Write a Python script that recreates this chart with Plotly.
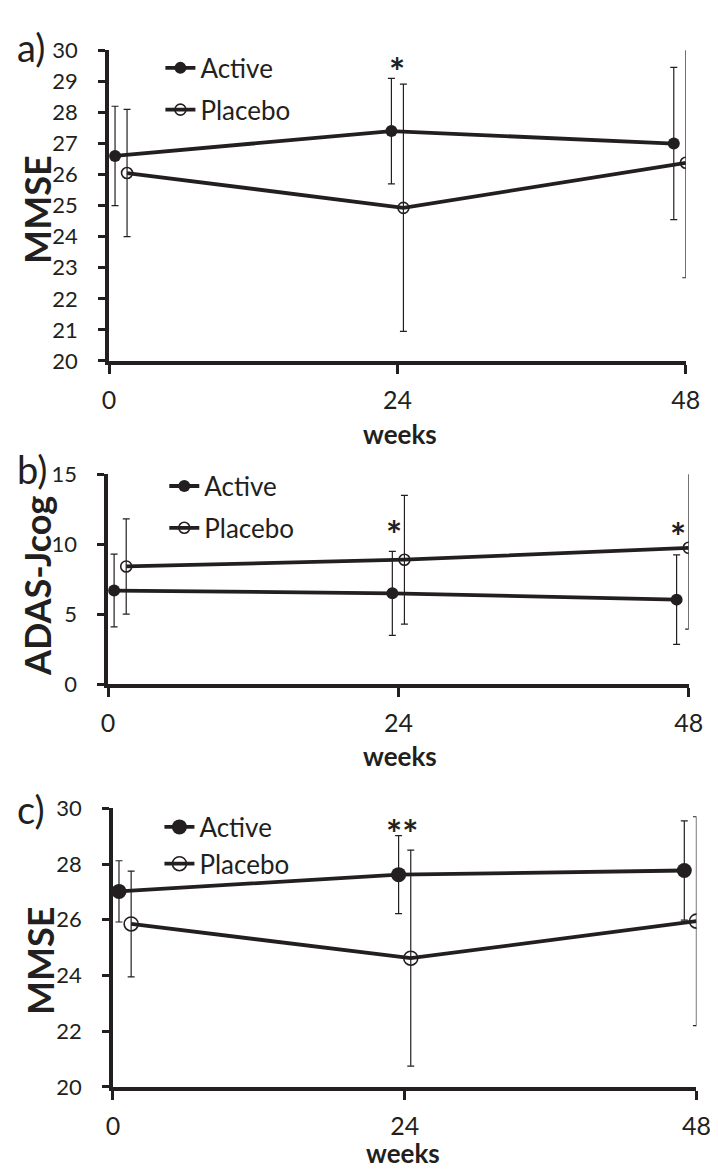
import plotly.graph_objects as go

# weeks (points are drawn slightly offset in the original, Active left, Placebo right)
weeks_active = [0.5, 23.5, 47]
weeks_placebo = [1.5, 24.5, 48]
tick_weeks = [0, 24, 48]
tick_text = ["0", "24", "48"]

# a) MMSE
mmse_a_active = [26.6, 27.4, 27.0]
mmse_a_active_sd = [1.6, 1.7, 2.45]
mmse_a_placebo = [26.05, 24.93, 26.38]
mmse_a_placebo_sd = [2.05, 3.98, 3.7]

# b) ADAS-Jcog
adas_active = [6.7, 6.5, 6.05]
adas_active_sd = [2.6, 3.0, 3.2]
adas_placebo = [8.42, 8.9, 9.75]
adas_placebo_sd = [3.4, 4.6, 5.8]

# c) MMSE
mmse_c_active = [27.02, 27.62, 27.77]
mmse_c_active_sd = [1.1, 1.4, 1.78]
mmse_c_placebo = [25.85, 24.62, 25.95]
mmse_c_placebo_sd = [1.9, 3.88, 3.75]

# significance marks: (panel, week, value, text)
stars = [
    (1, 24.0, 29.35, "*"),
    (2, 23.6, 10.75, "*"),
    (2, 47.1, 10.6, "*"),
    (3, 23.8, 29.1, "**"),
]

W, H = 718, 1169
FONT = "Lato, Open Sans, sans-serif"
INK = "#231f20"

def px(x): return x / W
def py(y): return 1 - y / H

fig = go.Figure()

panels = [
    (1, mmse_a_active, mmse_a_active_sd, mmse_a_placebo, mmse_a_placebo_sd, 12, 11),
    (2, adas_active, adas_active_sd, adas_placebo, adas_placebo_sd, 12, 11),
    (3, mmse_c_active, mmse_c_active_sd, mmse_c_placebo, mmse_c_placebo_sd, 15, 14),
]

for n, act, act_sd, pla, pla_sd, msz, osz in panels:
    sfx = "" if n == 1 else str(n)
    leg = "legend" if n == 1 else "legend" + str(n)
    fig.add_trace(go.Scatter(
        x=weeks_active, y=act, name="Active", mode="lines+markers",
        xaxis="x" + sfx, yaxis="y" + sfx, legend=leg, legendgroup="a" + str(n),
        line=dict(color=INK, width=3.8),
        marker=dict(symbol="circle", size=msz, color=INK),
        error_y=dict(type="data", array=act_sd, color=INK, thickness=1.2, width=3.5),
    ))
    fig.add_trace(go.Scatter(
        x=weeks_placebo, y=pla, name="Placebo", mode="lines+markers",
        xaxis="x" + sfx, yaxis="y" + sfx, legend=leg, legendgroup="p" + str(n),
        line=dict(color=INK, width=3.8),
        marker=dict(symbol="circle-open", size=osz, color=INK, line=dict(width=1.6)),
        error_y=dict(type="data", array=pla_sd, color=INK, thickness=1.2, width=3.5),
    ))

axis_common = dict(
    showgrid=False, zeroline=False, showline=True, linecolor=INK, linewidth=3.5,
    ticks="outside", tickcolor=INK, tickwidth=3, fixedrange=True,
)

layout_axes = {}
xdoms = {1: (97, 692), 2: (96, 695), 3: (101, 703)}
ydoms = {1: (347, 29), 2: (678, 463), 3: (1090, 805)}
yranges = {1: ([20, 30], 1), 2: ([0, 15], 5), 3: ([20, 30], 2)}

for n in (1, 2, 3):
    sfx = "" if n == 1 else str(n)
    layout_axes["xaxis" + sfx] = dict(
        axis_common, domain=[px(xdoms[n][0]), px(xdoms[n][1])], anchor="y" + sfx,
        range=[0, 48], tickmode="array", tickvals=tick_weeks, ticktext=tick_text,
        ticklen=9, ticklabelstandoff=5,
        tickfont=dict(family=FONT, size=25, color=INK),
    )
    rng, dt = yranges[n]
    layout_axes["yaxis" + sfx] = dict(
        axis_common, domain=[py(ydoms[n][0]), py(ydoms[n][1])], anchor="x" + sfx,
        range=rng, dtick=dt, tick0=rng[0], ticklen=7, ticklabelstandoff=16,
        tickfont=dict(family=FONT, size=22, color=INK),
    )

legend_common = dict(
    xanchor="left", yanchor="top", bgcolor="rgba(0,0,0,0)", borderwidth=0,
    font=dict(family=FONT, size=26, color=INK), itemwidth=30,
    tracegroupgap=5, itemclick=False, itemdoubleclick=False,
)
legends = {
    "legend": dict(legend_common, x=px(150), y=py(23)),
    "legend2": dict(legend_common, x=px(154), y=py(451)),
    "legend3": dict(legend_common, x=px(149), y=py(800), tracegroupgap=0),
}

annotations = []
for label, y in (("a)", 26), ("b)", 458), ("c)", 806)):
    annotations.append(dict(
        text=label, x=0, y=py(y), xref="paper", yref="paper", xanchor="left", yanchor="middle",
        showarrow=False, font=dict(family=FONT, size=38, color=INK),
    ))
for title, xc, y in (("MMSE", 22, 192), ("ADAS-Jcog", 22, 577), ("MMSE", 26, 961)):
    annotations.append(dict(
        text="<b>" + title + "</b>", x=px(xc), y=py(y), xref="paper", yref="paper",
        xanchor="center", yanchor="middle", textangle=-90, showarrow=False,
        font=dict(family=FONT, size=36, color=INK),
    ))
for xc, y in ((397, 422), (397, 751), (400, 1158)):
    annotations.append(dict(
        text="<b>weeks</b>", x=px(xc), y=py(y), xref="paper", yref="paper",
        xanchor="center", yanchor="middle", showarrow=False, borderpad=0,
        font=dict(family=FONT, size=26, color=INK),
    ))
for n, wk, val, txt in stars:
    sfx = "" if n == 1 else str(n)
    annotations.append(dict(
        text="<b>" + txt + "</b>", x=wk, y=val, xref="x" + sfx, yref="y" + sfx,
        xanchor="center", yanchor="middle", showarrow=False,
        font=dict(family=FONT, size=38, color=INK),
    ))

fig.update_layout(
    width=W, height=H, margin=dict(l=0, r=0, t=0, b=0),
    paper_bgcolor="white", plot_bgcolor="white", showlegend=True,
    annotations=annotations, **layout_axes, **legends,
)

fig.write_html("out.html")
